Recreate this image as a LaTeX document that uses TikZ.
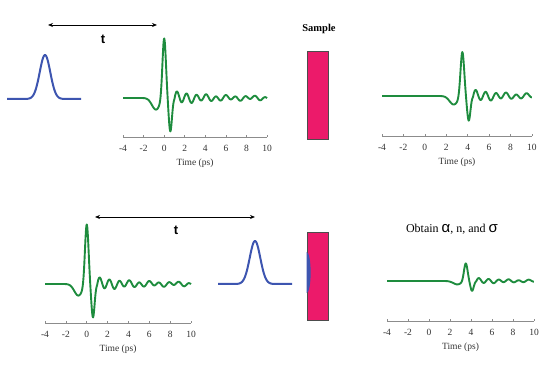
\documentclass[tikz,border=0pt]{standalone}
\usepackage{fontspec}
\setmainfont{Liberation Serif}
\newfontfamily\sansf{Liberation Sans}
\usetikzlibrary{arrows.meta}
\definecolor{wgreen}{HTML}{1E8C3E}
\definecolor{pblue}{HTML}{3D55B0}
\definecolor{smag}{HTML}{EC1A6A}
\newcommand\taxis[4]{% #1 prefix, #2 x of -4, #3 px per ps, #4 axis Y
  \draw[axisline] (#2,#4) coordinate (#1l) -- ({#2+14*#3},#4) coordinate (#1r);
  \foreach \v in {-4,-2,...,10} {
    \draw[axisline] ({#2+(\v+4)*#3},#4) -- ++(0,2);
    \node[ticklab] at ({#2+(\v+4)*#3},#4-11) {\v};
  }
  \node[ticklab] (#1time) at ({#2+7*#3},#4-26) {Time (ps)};
}
\begin{document}
\begin{tikzpicture}[x=1pt,y=1pt,
  declare function={
    gs(\u,\w)=exp(max(-30,-(\u/\w)^2));
    thz(\u,\r)=gs(\u,0.24)-0.55*gs(\u-0.6,0.22)-0.19*gs(\u+0.8,0.55)+(\u>1)*\r*((0.08*exp(-(\u-1)/2.5)+0.025)*sin(360*(\u-1)/0.95)+0.015*sin(360*(\u-1)/2.3));
  },
  wave/.style={wgreen,line width=1.9pt,line join=round},
  pulse/.style={pblue,line width=2pt,line join=round},
  axisline/.style={black!45,line width=0.6pt},
  ticklab/.style={font=\fontsize{9.5}{10}\selectfont,text=black!80,inner sep=0pt},
  samplebox/.style={draw=black!70,fill=smag,line width=0.7pt,minimum width=21pt,minimum height=88pt,inner sep=0pt},
  tarrow/.style={{Stealth[length=5pt,width=4pt]}-{Stealth[length=5pt,width=4pt]},line width=0.8pt,black},
  tlabel/.style={font=\sansf\bfseries\fontsize{13}{13}\selectfont,inner sep=0pt},
]
\useasboundingbox (0,0) rectangle (546,382);

% ---------- top row ----------
\draw[pulse] plot[variable=\x,domain=7:81,samples=120] (\x,{283+44*gs(\x-45,7.5)});
\coordinate (a1l) at (48,357);
\coordinate (a1r) at (157,357);
\draw[tarrow] (a1l) -- (a1r);
\node[tlabel] (t1) at (103,343) {t};

\taxis{ax1}{123}{10.29}{245}
\draw[wave] plot[variable=\t,domain=-4:10,samples=350] ({123+(\t+4)*10.29},{284+61*thz(\t,1)});

\node[font=\bfseries\fontsize{10.5}{11}\selectfont,inner sep=0pt] (samp) at (319,353) {Sample};
\node[samplebox] (s1) at (317.5,287) {};

\taxis{ax2}{382}{10.71}{246}
\draw[wave] plot[variable=\t,domain=-4:10,samples=350] ({382+(\t+4)*10.71},{286+45*thz(\t-3.5,1.25)});

% ---------- bottom row ----------
\taxis{ax3}{45}{10.43}{59}
\draw[wave] plot[variable=\t,domain=-4:10,samples=350] ({45+(\t+4)*10.43},{98+61*thz(\t,1)});

\coordinate (a2l) at (95,165);
\coordinate (a2r) at (255,165);
\draw[tarrow] (a2l) -- (a2r);
\node[tlabel] (t2) at (176,152) {t};

\draw[pulse] plot[variable=\x,domain=218:292,samples=120] (\x,{98+43*gs(\x-255,7.5)});

\node[samplebox] (s2) at (317.5,106) {};
\fill[pblue] (s2.west |- 0,89) arc[start angle=-90,end angle=90,x radius=4,y radius=20.5] -- cycle;

\node[font=\fontsize{12}{13}\selectfont,inner sep=0pt] (obt) at (452,153)
  {Obtain {\sansf\fontsize{15}{15}\selectfont α}, n, and {\sansf\fontsize{15}{15}\selectfont σ}};

\taxis{ax4}{387}{10.5}{61}
\draw[wave] plot[variable=\t,domain=-4:10,samples=350] ({387+(\t+4)*10.5},{101+18*thz(\t-3.5,1.5)});
\end{tikzpicture}
\end{document}
